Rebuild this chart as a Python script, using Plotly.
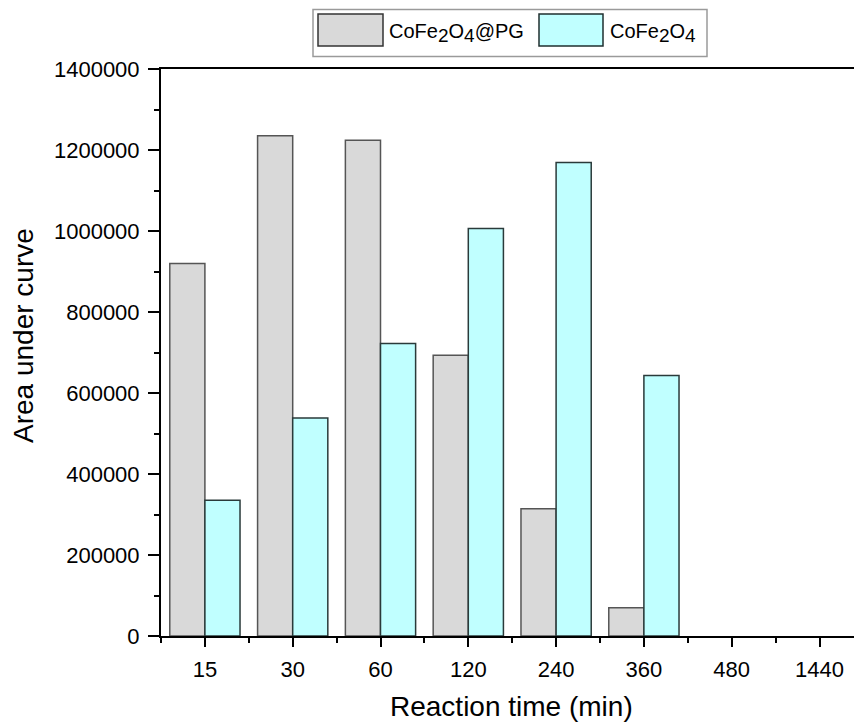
import plotly.graph_objects as go

# ---- data ----
categories = ["15", "30", "60", "120", "240", "360", "480", "1440"]
pg_values = [920000, 1235000, 1224000, 693000, 314000, 70000, None, None]
cf_values = [335000, 538000, 722000, 1006000, 1169000, 643000, None, None]
SUB = '<sub><span style="font-size:19px">{}</span></sub>'
series_names = ["CoFe" + SUB.format("2") + "O" + SUB.format("4") + "@PG",
                "CoFe" + SUB.format("2") + "O" + SUB.format("4")]
y_ticks = [0, 200000, 400000, 600000, 800000, 1000000, 1200000, 1400000]

FONT = "Liberation Sans, Arial, sans-serif"
W, H = 854, 722
ML, MT, MB, MR = 161, 69, 86, 0
PW = W - ML - MR
PH = H - MT - MB
CAT_PX = 87.8  # pixel width of one category in the reference

idx = list(range(len(categories)))
x_range = [-0.5, -0.5 + PW / CAT_PX]

GREY_FILL = "#D9D9D9"
CYAN_FILL = "#C0FFFF"

fig = go.Figure()
fig.add_trace(go.Bar(x=idx, y=pg_values, name="CoFe2O4@PG",
                     marker=dict(color=GREY_FILL, line=dict(color="#555555", width=1.5)),
                     showlegend=False))
fig.add_trace(go.Bar(x=idx, y=cf_values, name="CoFe2O4",
                     marker=dict(color=CYAN_FILL, line=dict(color="#2A3A3A", width=1.5)),
                     showlegend=False))


def px_x(p):
    return (p - ML) / PW


def px_y(p):
    return (H - MB - p) / PH


shapes = []
annotations = []
# legend box
shapes.append(dict(type="rect", xref="paper", yref="paper",
                   x0=px_x(313), x1=px_x(707), y0=px_y(56.5), y1=px_y(9.5),
                   line=dict(color="#9A9A9A", width=1.5), fillcolor="white"))
legend_items = [(318, 383, 387, GREY_FILL, "#333333", series_names[0]),
                (539, 603, 608, CYAN_FILL, "#1F2F2F", series_names[1])]
for sx0, sx1, tx, fill, lc, name in legend_items:
    shapes.append(dict(type="rect", xref="paper", yref="paper",
                       x0=px_x(sx0), x1=px_x(sx1), y0=px_y(46), y1=px_y(14),
                       line=dict(color=lc, width=1.5), fillcolor=fill))
    annotations.append(dict(text=name, xref="paper", yref="paper",
                            x=px_x(tx), y=px_y(33), xanchor="left", yanchor="middle",
                            showarrow=False, font=dict(family=FONT, size=20, color="black")))

# axis titles
annotations.append(dict(text="Reaction time (min)", xref="paper", yref="paper",
                        x=px_x(512), y=px_y(706), xanchor="center", yanchor="middle",
                        showarrow=False, font=dict(family=FONT, size=28, color="black")))
annotations.append(dict(text="Area under curve", xref="paper", yref="paper",
                        x=px_x(23), y=px_y(336), xanchor="center", yanchor="middle",
                        textangle=-90, showarrow=False,
                        font=dict(family=FONT, size=28, color="black")))

fig.update_layout(
    width=W, height=H,
    margin=dict(l=ML, r=MR, t=MT, b=MB, pad=0),
    paper_bgcolor="white", plot_bgcolor="white",
    barmode="group", bargap=0.2, bargroupgap=0,
    font=dict(family=FONT, size=22, color="black"),
    shapes=shapes, annotations=annotations,
    showlegend=False,
)

fig.update_xaxes(
    range=x_range,
    tickmode="array", tickvals=idx, ticktext=categories,
    showline=True, linecolor="black", linewidth=2, mirror=True,
    ticks="outside", ticklen=9, tickwidth=2, tickcolor="black",
    minor=dict(tickmode="array", tickvals=[i - 0.5 for i in idx] + [len(idx) - 0.5],
               ticks="outside", ticklen=5, tickwidth=2, tickcolor="black"),
    showgrid=False, zeroline=False,
    tickfont=dict(family=FONT, size=22, color="black"),
    ticklabelstandoff=4,
)
fig.update_yaxes(
    range=[0, 1400000],
    tickmode="array", tickvals=y_ticks, ticktext=[str(v) for v in y_ticks],
    showline=True, linecolor="black", linewidth=2, mirror=False,
    ticks="outside", ticklen=11, tickwidth=2, tickcolor="black",
    minor=dict(dtick=100000, ticks="outside", ticklen=5, tickwidth=2, tickcolor="black"),
    showgrid=False, zeroline=False,
    tickfont=dict(family=FONT, size=22, color="black"),
    ticklabelstandoff=4,
)

fig.write_html("out.html")
